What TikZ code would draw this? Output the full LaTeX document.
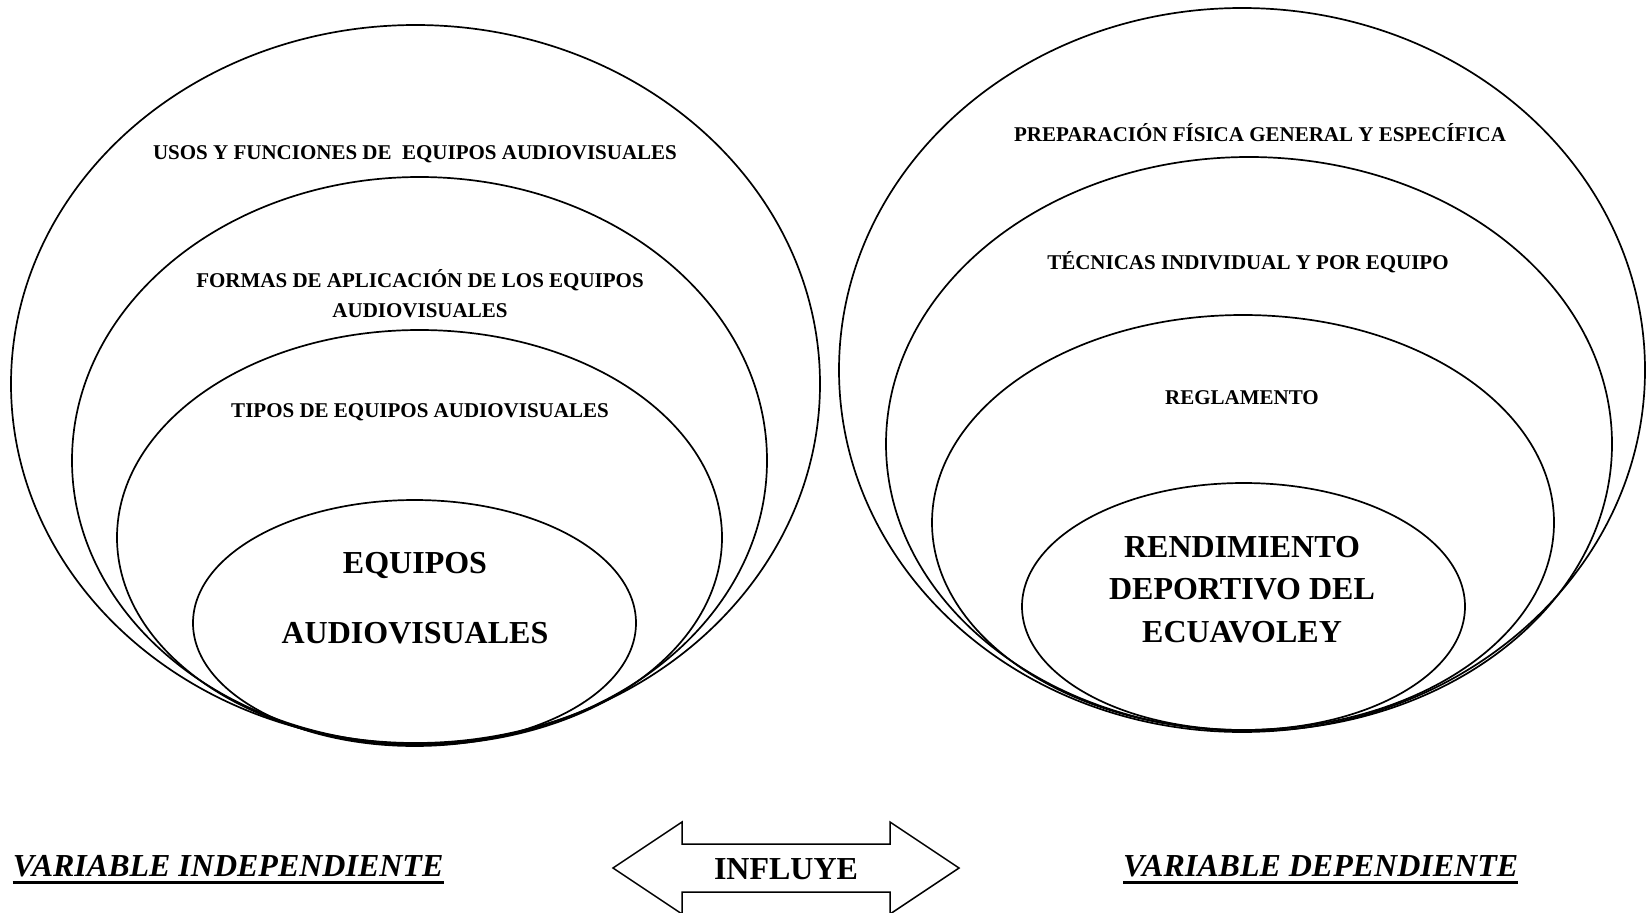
\documentclass[tikz,border=0pt]{standalone}
\usepackage{fontspec}
\setmainfont{Liberation Serif}
\usetikzlibrary{shapes.geometric}
\begin{document}
\begin{tikzpicture}[x=1pt,y=-1pt,
  ring/.style={draw, line width=1.7pt, ellipse, inner sep=0pt, outer sep=0pt},
  small/.style={font=\bfseries\fontsize{21}{29}\selectfont, anchor=base, inner sep=0pt},
  big/.style={font=\bfseries\fontsize{32}{40}\selectfont, anchor=base, inner sep=0pt},
  var/.style={font=\bfseries\itshape\fontsize{32}{38}\selectfont, anchor=base west, inner sep=0pt},
  uline/.style={line width=3pt}]
\useasboundingbox (0,0) rectangle (1647,913);
% left group
\node[ring, minimum width=809pt, minimum height=718pt] (L1) at (415.5,384) {};
\node[ring, minimum width=695pt, minimum height=567pt] (L2) at (419.5,460.5) {};
\node[ring, minimum width=605pt, minimum height=415pt] (L3) at (419.5,537.5) {};
\node[ring, minimum width=443pt, minimum height=246pt] (L4) at (414.5,623) {};
% right group
\node[ring, minimum width=806pt, minimum height=724pt] (R1) at (1242,370) {};
\node[ring, minimum width=726pt, minimum height=574pt] (R2) at (1249,444) {};
\node[ring, minimum width=622pt, minimum height=415pt] (R3) at (1243,522.5) {};
\node[ring, minimum width=443pt, minimum height=247pt] (R4) at (1243.5,606.5) {};
% left labels
\node[small] (t1) at (415,159) {USOS Y FUNCIONES DE\ \ EQUIPOS AUDIOVISUALES};
\node[small] (t2a) at (420,287) {FORMAS DE APLICACIÓN DE LOS EQUIPOS};
\node[small] (t2b) at (420,317) {AUDIOVISUALES};
\node[small] (t3) at (420,417) {TIPOS DE EQUIPOS AUDIOVISUALES};
\node[big] (c1) at (415,573) {EQUIPOS};
\node[big] (c2) at (415,643) {AUDIOVISUALES};
% right labels
\node[small] (s1) at (1260,141) {PREPARACIÓN FÍSICA GENERAL Y ESPECÍFICA};
\node[small] (s2) at (1248,269) {TÉCNICAS INDIVIDUAL Y POR EQUIPO};
\node[small] (s3) at (1242,404) {REGLAMENTO};
\node[big] (d1) at (1242,557) {RENDIMIENTO};
\node[big] (d2) at (1242,599) {DEPORTIVO DEL};
\node[big] (d3) at (1242,642) {ECUAVOLEY};
% arrow
\draw[line width=1.5pt, line join=miter] (613,868) -- (682,822) -- (682,844) -- (890,844) -- (890,822) -- (959,868)
  -- (890,914) -- (890,892) -- (682,892) -- (682,914) -- cycle;
\node[big] (inf) at (786,879) {INFLUYE};
% variables
\node[var] (vi) at (12.6,876) {VARIABLE INDEPENDIENTE};
\draw[uline] ([yshift=-6pt]vi.base west) -- ([yshift=-6pt]vi.base east);
\node[var] (vd) at (1123,876) {VARIABLE DEPENDIENTE};
\draw[uline] ([yshift=-6pt]vd.base west) -- ([yshift=-6pt]vd.base east);
\end{tikzpicture}
\end{document}
